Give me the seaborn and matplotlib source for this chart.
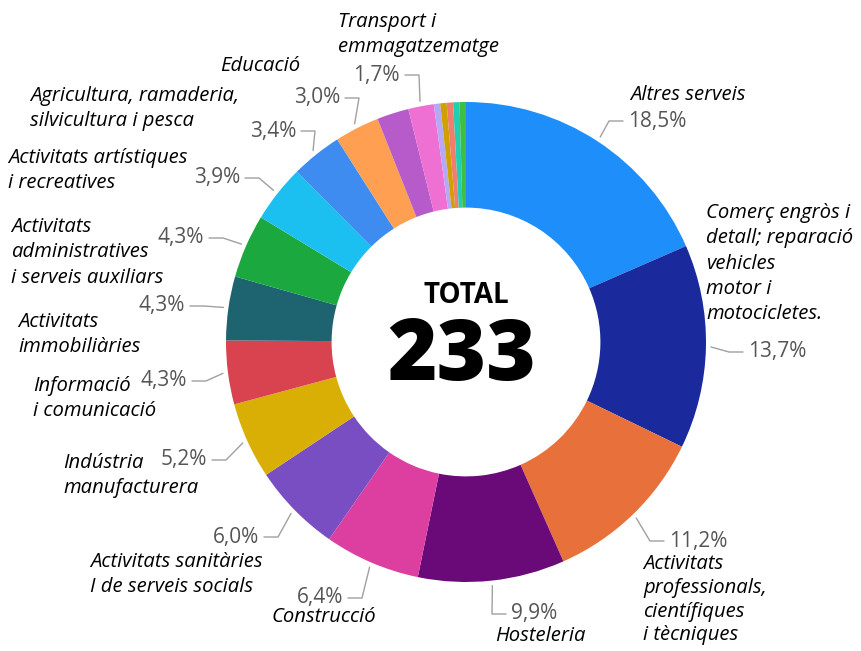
import matplotlib
matplotlib.use("Agg")
import matplotlib.pyplot as plt
import numpy as np
import seaborn as sns

# sectors (clockwise from 12 o'clock) and number of companies
sectors = [
    "Altres serveis",
    "Comerç engròs i\ndetall; reparació\nvehicles\nmotor i\nmotocicletes.",
    "Activitats\nprofessionals,\ncientífiques\ni tècniques",
    "Hosteleria",
    "Construcció",
    "Activitats sanitàries\nI de serveis socials",
    "Indústria\nmanufacturera",
    "Informació\ni comunicació",
    "Activitats\nimmobiliàries",
    "Activitats\nadministratives\ni serveis auxiliars",
    "Activitats artístiques\ni recreatives",
    "Agricultura, ramaderia,\nsilvicultura i pesca",
    "Educació",
    "",
    "Transport i\nemmagatzematge",
    "", "", "", "", "",
]
counts = [43, 32, 26, 23, 15, 14, 12, 10, 10, 10, 9, 8, 7, 5, 4, 1, 1, 1, 1, 1]
colors = [
    "#1E8FFA", "#1A2A9C", "#E8703B", "#6A0A78", "#DD3FA0", "#7A4EC3",
    "#D9AE05", "#D9434F", "#1E6370", "#1BA83F", "#1CC0F0", "#3E8CF0",
    "#FF9F52", "#B65BC9", "#EE70D2", "#B6A9F4", "#CFA000", "#F07E6E",
    "#22CDB0", "#3FBE45",
]

# label layout in pixels: (pct x, pct y, ha), (category left x, first line y, line step)
pct_pos = {
    0: (628, 121, "left"), 1: (748, 352, "left"), 2: (669, 541, "left"),
    3: (511, 614, "left"), 4: (343, 598, "right"), 5: (259, 537, "right"),
    6: (207, 460, "right"), 7: (187, 381, "right"), 8: (185, 306, "right"),
    9: (204, 238, "right"), 10: (240, 178, "right"), 11: (296, 131, "right"),
    12: (340, 98, "right"), 14: (400, 75, "right"),
}
cat_pos = {
    0: (630, 95, 25.3), 1: (706, 213, 25.3), 2: (643, 564, 23.8),
    3: (495, 636, 25.3), 4: (272, 617, 25.3), 5: (90, 562, 25.3),
    6: (63, 463, 25.3), 7: (33, 386, 25.3), 8: (18, 322, 25.3),
    9: (11, 227, 25.3), 10: (8, 158, 25.3), 11: (30, 96, 25.3),
    12: (220, 66, 25.3), 14: (338, 22, 25.3),
}

W, H = 862, 651
CX, CY, R = 466, 342, 240


def px(x, y):
    return x, H - y


sns.set_theme(style="white")
plt.rcParams["font.family"] = ["Open Sans", "DejaVu Sans"]

fig = plt.figure(figsize=(W / 100, H / 100), dpi=100)
ax = fig.add_axes([0, 0, 1, 1])

total = sum(counts)
ax.pie(counts, colors=colors, startangle=90, counterclock=False,
       radius=R, center=px(CX, CY),
       wedgeprops=dict(width=R * 0.44, linewidth=0))

cum = np.cumsum([0] + counts[:-1])
for i, (name, c) in enumerate(zip(sectors, counts)):
    if i not in pct_pos:
        continue
    ang = np.deg2rad(90 - 360 * (cum[i] + c / 2) / total)
    sx, sy = CX + (R + 5) * np.cos(ang), CY - (R + 5) * np.sin(ang)
    tx, ty, ha = pct_pos[i]
    pct = f"{100 * c / total:.1f}%".replace(".", ",")
    ax.text(*px(tx, ty), pct, ha=ha, va="center", fontsize=15, color="#555555")
    # elbow leader line
    ex = tx - 5 if ha == "left" else tx + 5
    kx = ex - 14 if ha == "left" else ex + 14
    ax.plot([sx, kx, ex], [H - sy, H - ty, H - ty], color="#a0a0a0", lw=1.0)
    lx, ly, step = cat_pos[i]
    for k, line in enumerate(name.split("\n")):
        ax.text(*px(lx, ly + k * step), line, ha="left", va="center",
                fontsize=14.6, style="italic", color="black")

ax.text(*px(466, 296), "TOTAL", ha="center", va="center", fontsize=20,
        fontweight="bold", color="black")
ax.text(*px(462, 358), str(total), ha="center", va="center", fontsize=61,
        fontweight="heavy", color="black")

ax.set_xlim(0, W)
ax.set_ylim(0, H)
ax.set_aspect("equal")
ax.axis("off")

fig.savefig("out.png", dpi=100)
